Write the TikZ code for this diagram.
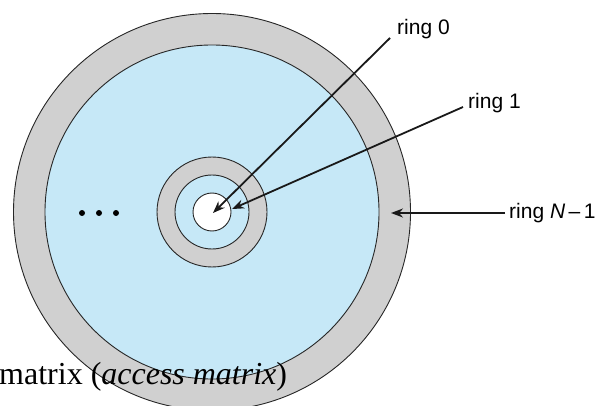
\documentclass[tikz,border=0pt]{standalone}
\usepackage{fontspec}
\setmainfont{Liberation Serif}
\newfontfamily\labelfont{Liberation Sans}
\usetikzlibrary{arrows.meta}
\definecolor{ringblue}{RGB}{198,232,247}
\definecolor{ringgray}{RGB}{208,208,208}
\tikzset{
  ringline/.style={draw=black!85, line width=0.9pt},
  pointer/.style={draw=black!90, line width=1.8pt, -{Stealth[length=12pt,width=9pt]}},
  ringlabel/.style={font=\labelfont\fontsize{21}{25}\selectfont, inner sep=0pt, anchor=west},
  dot/.style={circle, fill=black, inner sep=0pt, minimum size=6pt}
}
\begin{document}
\begin{tikzpicture}[x=1pt,y=-1pt]
\useasboundingbox (0,0) rectangle (602,406);
\clip (0,0) rectangle (602,406);
\coordinate (c) at (212,212);
% rings
\fill[ringgray] (c) circle (198.5pt);
\draw[ringline] (c) circle (198.5pt);
\fill[ringblue] (c) circle (167pt);
\draw[ringline] (c) circle (167pt);
\fill[ringgray] (c) circle (55pt);
\draw[ringline] (c) circle (55pt);
\fill[ringblue] (c) circle (37pt);
\draw[ringline] (c) circle (37pt);
\fill[white] (c) circle (19pt);
\draw[ringline] (c) circle (19pt);
% dots
\node[dot] (d1) at (82,213) {};
\node[dot] (d2) at (99,213) {};
\node[dot] (d3) at (116,213) {};
% labels
\node[ringlabel] (l0) at (397,29) {ring 0};
\node[ringlabel] (l1) at (468,103) {ring 1};
\node[ringlabel] (lN) at (509,213) {ring \textit{N}\,–\,1};
% pointer ends
\coordinate (s0) at (390,38);
\coordinate (t0) at (213,213);
\coordinate (s1) at (463,107);
\coordinate (t1) at (232,209);
\coordinate (sN) at (505,213);
\coordinate (tN) at (391,213);
\draw[pointer] (s0) -- (t0);
\draw[pointer] (s1) -- (t1);
\draw[pointer] (sN) -- (tN);
% caption fragment
\node[inner sep=0pt, anchor=base west, font=\fontsize{32}{37}\selectfont] (cap) at (-1,384) {matrix (\textit{access matrix})};
\end{tikzpicture}
\end{document}
